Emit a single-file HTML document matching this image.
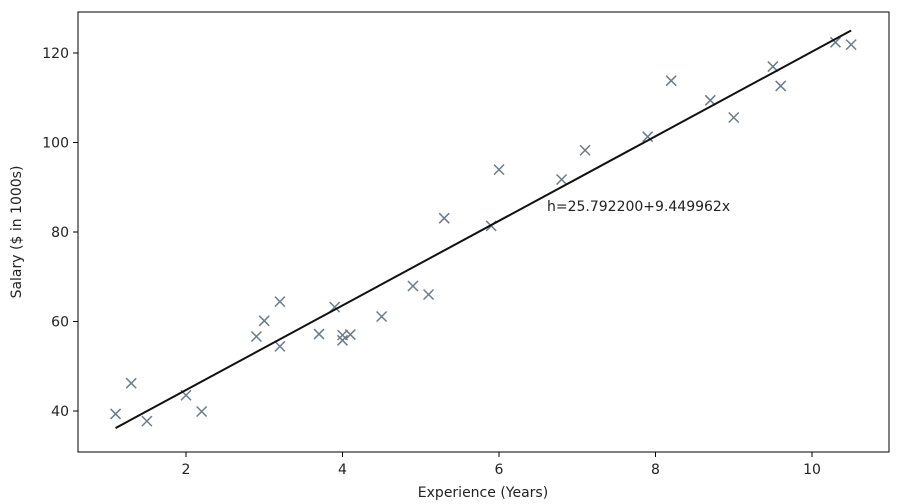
<!DOCTYPE html>
<html><head><meta charset="utf-8"><style>
body{margin:0;background:#fff;}
svg{display:block;font-family:"DejaVu Sans","Liberation Sans",sans-serif;}
</style></head><body>
<svg id="chart" width="901" height="504">
<rect x="78" y="12" width="811" height="440" fill="none" stroke="#000" stroke-width="1"/>
<g id="xticks"></g><g id="yticks"></g><g id="pts"></g><g id="fit"></g>
<text x="483" y="497" font-size="14" text-anchor="middle" fill="#222">Experience (Years)</text>
<text transform="translate(21,232) rotate(-90)" font-size="14" text-anchor="middle" fill="#222">Salary ($ in 1000s)</text>
<text x="547" y="211" font-size="14" fill="#222">h=25.792200+9.449962x</text>
</svg>
<script>
const xs=[1.1,1.3,1.5,2.0,2.2,2.9,3.0,3.2,3.2,3.7,3.9,4.0,4.0,4.1,4.5,4.9,5.1,5.3,5.9,6.0,6.8,7.1,7.9,8.2,8.7,9.0,9.5,9.6,10.3,10.5];
const ys=[39.343,46.205,37.731,43.525,39.891,56.642,60.150,54.445,64.445,57.189,63.218,55.794,56.957,57.081,61.111,67.938,66.029,83.088,81.363,93.940,91.738,98.273,101.302,113.812,109.431,105.582,116.969,112.635,122.391,121.872];
const xTicks=[2,4,6,8,10];
const yTicks=[40,60,80,100,120];
const intercept=25.7922, slope=9.449962;
const NS="http://www.w3.org/2000/svg";
const sx=v=>186+(v-2)*78.25;
const sy=v=>411-(v-40)*4.475;
function mk(t,a,p){const e=document.createElementNS(NS,t);for(const k in a)e.setAttribute(k,a[k]);p.appendChild(e);return e;}
const gx=document.getElementById('xticks');
xTicks.forEach(t=>{
 const l=mk('line',{x1:sx(t),x2:sx(t),y1:452,y2:457,stroke:'#000'},gx);
 
 
 const tx=mk('text',{x:sx(t),y:474,'font-size':14,'text-anchor':'middle',fill:'#222'},gx);tx.textContent=t;
 
 
});
const gy=document.getElementById('yticks');
yTicks.forEach(t=>{
 const l=mk('line',{x1:73,x2:78,y1:sy(t),y2:sy(t),stroke:'#000'},gy);
 
 
 const tx=mk('text',{x:69,y:sy(t)+5,'font-size':14,'text-anchor':'end',fill:'#222'},gy);tx.textContent=t;
 
 
});
const gp=document.getElementById('pts');
xs.forEach((x,i)=>{
 const cx=sx(x),cy=sy(ys[i]),d=5;
 const p=mk('path',{d:`M${cx-d},${cy-d}L${cx+d},${cy+d}M${cx-d},${cy+d}L${cx+d},${cy-d}`,stroke:'#6b7b87','stroke-width':1.5,fill:'none'},gp);
 
 
});
const x0=Math.min(...xs),x1=Math.max(...xs);
const fl=mk('line',{x1:sx(x0),y1:sy(intercept+slope*x0),x2:sx(x1),y2:sy(intercept+slope*x1),stroke:'#111','stroke-width':2},document.getElementById('fit'));


</script>
</body></html>
